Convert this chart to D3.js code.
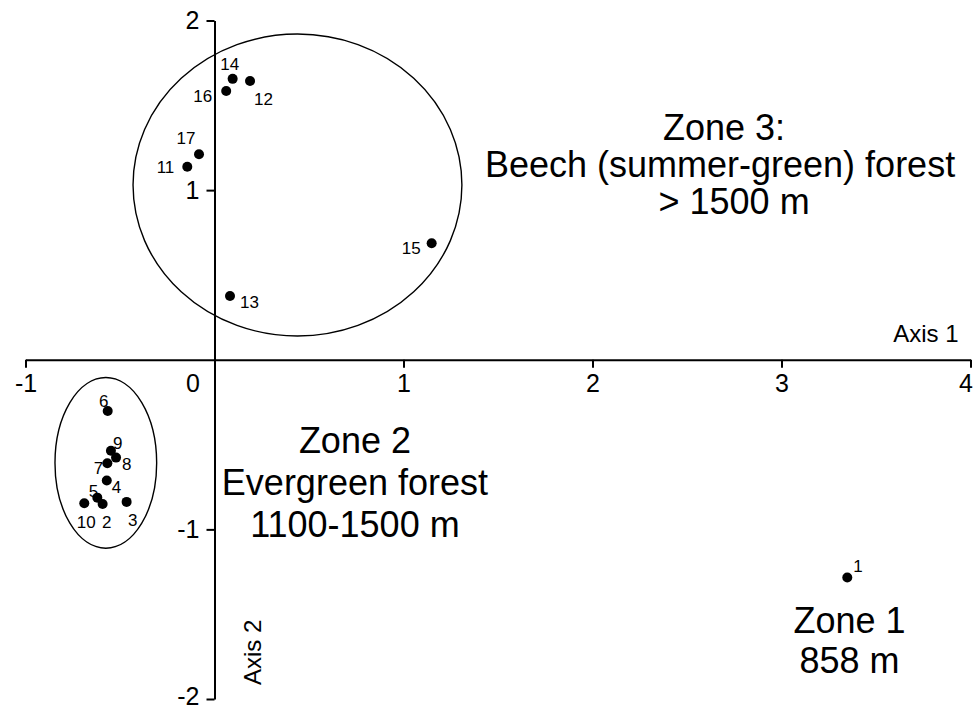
<!DOCTYPE html>
<html>
<head>
<meta charset="utf-8">
<script src="https://cdn.jsdelivr.net/npm/d3@7/dist/d3.min.js"></script>
<style>
  html, body { margin: 0; padding: 0; background: #fff; }
  svg { display: block; font-family: "Liberation Sans", Arial, sans-serif; }
</style>
</head>
<body>
<div id="chart"></div>
<script>
// ---- data ----
const siteIds = [1, 2, 3, 4, 5, 6, 7, 8, 9, 10, 11, 12, 13, 14, 15, 16, 17];
const axis1 = [3.348, -0.592, -0.465, -0.570, -0.620, -0.565, -0.567, -0.521, -0.548, -0.689,
               -0.144, 0.188, 0.082, 0.096, 1.149, 0.062, -0.082];
const axis2 = [-1.284, -0.850, -0.838, -0.712, -0.813, -0.302, -0.610, -0.577, -0.536, -0.846,
               1.138, 1.643, 0.376, 1.656, 0.687, 1.584, 1.211];

const xTicks = [-1, 0, 1, 2, 3, 4];
const yTicks = [-2, -1, 1, 2];

// zone envelopes (centre and radii in axis units)
const zoneCx = [-0.575, 0.439];
const zoneCy = [-0.608, 1.030];
const zoneRx = [0.269, 0.870];
const zoneRy = [0.503, 0.890];

const zoneText = [
  { x: 3.36, y: -1.61, gap: 40, lines: ['Zone 1', '858 m'], shift: [0, 0] },
  { x: 0.743, y: -0.55, gap: 42, lines: ['Zone 2', 'Evergreen forest', '1100-1500 m'], shift: [0, 0, 0] },
  { x: 2.675, y: 1.295, gap: 37, lines: ['Zone 3:', 'Beech (summer-green) forest', '> 1500 m'], shift: [4, 0, 14] }
];

// label placement next to each dot: [dx, dy, anchor]
const labelOffsets = {
  1: [6, -6, 'start'], 2: [4, 24, 'middle'], 3: [6, 24, 'middle'], 4: [5, 12, 'start'],
  5: [1, -1, 'end'], 6: [-4, -4, 'middle'], 7: [-4, 11, 'end'], 8: [6, 12, 'start'],
  9: [2, -2, 'start'], 10: [2, 25, 'middle'], 11: [-13, 6, 'end'], 12: [4, 24, 'start'],
  13: [10, 12, 'start'], 14: [-3, -9, 'middle'], 15: [-11, 11, 'end'], 16: [-14, 11, 'end'],
  17: [-13, -10, 'middle']
};

const width = 975, height = 709;

const x = d3.scaleLinear().domain([-1, 4]).range([25.5, 970.5]);
const y = d3.scaleLinear().domain([-2, 2]).range([699, 20.5]);

const svg = d3.select('#chart').append('svg')
  .attr('width', width).attr('height', height);

// x axis through the origin
const gx = svg.append('g')
  .attr('transform', `translate(0,${y(0)})`)
  .call(d3.axisBottom(x).tickValues(xTicks).tickSize(8).tickSizeOuter(0).tickFormat(d => String(d)));

gx.selectAll('text')
  .attr('font-size', 25).attr('font-family', '"Liberation Sans", Arial, sans-serif')
  .attr('fill', '#000').attr('y', 14).attr('dy', '0.71em')
  .attr('dx', d => d === 0 ? -22 : (d === 4 ? -5 : 0));

// y axis through the origin
const gy = svg.append('g')
  .attr('transform', `translate(${x(0)},0)`)
  .call(d3.axisLeft(y).tickValues(yTicks).tickSize(8).tickSizeOuter(0).tickFormat(d => String(d)));

gy.selectAll('text')
  .attr('font-size', 25).attr('font-family', '"Liberation Sans", Arial, sans-serif')
  .attr('fill', '#000').attr('x', -15)
  .attr('dy', d => d === -2 ? '0.22em' : '0.32em');

svg.selectAll('.domain, .tick line').attr('stroke', '#000').attr('stroke-width', 2);

// axis titles
svg.append('text')
  .attr('x', x(4) - 12).attr('y', y(0) - 18)
  .attr('text-anchor', 'end').attr('font-size', 24)
  .text('Axis 1');

svg.append('text')
  .attr('transform', `translate(${x(0) + 46},${y(-2) - 14}) rotate(-90)`)
  .attr('text-anchor', 'start').attr('font-size', 24)
  .text('Axis 2');

// zone envelopes
svg.selectAll('.zone')
  .data(zoneCx).enter()
  .append('ellipse')
  .attr('cx', d => x(d))
  .attr('cy', (d, i) => y(zoneCy[i]))
  .attr('rx', (d, i) => x(zoneRx[i]) - x(0))
  .attr('ry', (d, i) => y(0) - y(zoneRy[i]))
  .attr('fill', 'none')
  .attr('stroke', '#000')
  .attr('stroke-width', 1.4);

// sites
const sites = siteIds.map((id, i) => ({ id, a1: axis1[i], a2: axis2[i] }));

svg.selectAll('.dot')
  .data(sites).enter()
  .append('circle')
  .attr('cx', d => x(d.a1))
  .attr('cy', d => y(d.a2))
  .attr('r', 5)
  .attr('fill', '#000');

svg.selectAll('.lbl')
  .data(sites).enter()
  .append('text')
  .attr('x', d => x(d.a1) + labelOffsets[d.id][0])
  .attr('y', d => y(d.a2) + labelOffsets[d.id][1])
  .attr('text-anchor', d => labelOffsets[d.id][2])
  .attr('font-size', 17)
  .text(d => d.id);

// zone captions
zoneText.forEach(z => {
  const t = svg.append('text')
    .attr('text-anchor', 'middle')
    .attr('font-size', 36);
  z.lines.forEach((line, k) => {
    t.append('tspan')
      .attr('x', x(z.x) + z.shift[k])
      .attr('y', y(z.y) + k * z.gap)
      .text(line);
  });
});
</script>
</body>
</html>
